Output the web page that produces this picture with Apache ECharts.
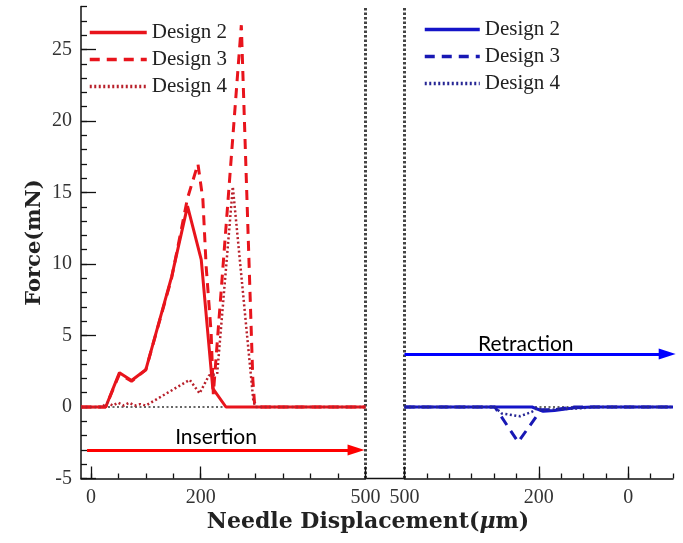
<!DOCTYPE html>
<html><head><meta charset="utf-8">
<script src="https://cdn.jsdelivr.net/npm/echarts@6/dist/echarts.min.js"></script>
<style>html,body{margin:0;padding:0;background:#fff}#c{width:683px;height:543px}</style>
</head><body><div id="c"></div>
<script>
// ---- Insertion panel (left) : needle displacement (um) vs force (mN)
const insX2 = [-18, 27, 52, 74, 100, 147, 176, 201, 222, 246, 500];
const insY2 = [0, 0, 2.4, 1.85, 2.6, 9.1, 14.05, 10.3, 1.3, 0, 0];
const insX3 = [-18, 27, 52, 74, 100, 147, 176, 195, 204, 210, 219, 223, 274, 295, 298, 305, 500];
const insY3 = [0, 0, 2.3, 1.8, 2.6, 9.0, 14.6, 17.0, 14.5, 9.8, 5.2, 0.9, 26.7, 1.9, 0.3, 0, 0];
const insX4 = [-18, 20, 30, 40, 50, 60, 70, 80, 90, 100, 140, 180, 198, 215, 230, 258.5, 296, 300, 500];
const insY4 = [0, 0, 0.3, 0.1, 0.3, 0.1, 0.3, 0.1, 0.2, 0.1, 1.0, 1.9, 0.95, 2.2, 2.3, 15.4, 0.4, 0, 0];
// ---- Retraction panel (right)
const retX2 = [500, 215, 190, 165, 120, 80, -100];
const retY2 = [0, 0, -0.3, -0.25, -0.05, 0, 0];
const retX3 = [500, 298, 246, 205, 195, 170, 120, -100];
const retY3 = [0, 0, -2.45, -0.65, -0.2, -0.2, 0, 0];
const retX4 = [500, 298, 283, 242, 216, 205, 190, 150, 110, 80, -100];
const retY4 = [0, 0, -0.45, -0.65, -0.35, -0.1, -0.2, -0.15, -0.1, 0, 0];
// reference lines / annotations
const zeroInsX = [-18, 500];
const zeroRetX = [500, -100];
const zeroY = [0, 0];
const insArrowX = [-7, 483];
const insArrowY = -3;
const retArrowX = [500, -87];
const retArrowY = 3.7;
const insTextPos = [228, -2.1];
const retTextPos = [229, 4.4];
// ticks
const xMajorIns = [0, 200, 500];
const xMinorIns = [0, 50, 100, 150, 200, 250, 300, 350, 400, 450, 500];
const xMajorRet = [500, 200, 0];
const xMinorRet = [500, 450, 400, 350, 300, 250, 200, 150, 100, 50, 0, -50, -100];
const yMajor = [-5, 0, 5, 10, 15, 20, 25];
const yMinor = [-5,-4,-3,-2,-1,0,1,2,3,4,5,6,7,8,9,10,11,12,13,14,15,16,17,18,19,20,21,22,23,24,25,26,27,28];
const legendNames = ['Design 2', 'Design 3', 'Design 4'];
const legendNamesRet = ['R Design 2', 'R Design 3', 'R Design 4'];

const pairs = (xs, ys) => xs.map((x, i) => [x, ys[i]]);

const RED = '#e8141c', RED4 = '#b8202b';
const BLUE = '#1414c8', BLUE3 = '#1818b4', BLUE4 = '#262694';
const serif = 'Liberation Serif';
const arrowPath = 'path://M0,0M17,17M8.5,0L14,17L3,17Z';

const chart = echarts.init(document.getElementById('c'), null, {renderer: 'canvas'});

const baseX = (gridIndex, min, max, inverse) => ({
  type: 'value', gridIndex, min, max, inverse, position: 'bottom',
  axisLine: {show: false, onZero: false},
  splitLine: {show: false}, axisLabel: {show: false}, axisTick: {show: false}
});

const xAxes = [
  Object.assign(baseX(0, -18, 500, false), {
    axisLine: {show: true, onZero: false, lineStyle: {color: '#111', width: 1.5}},
    axisTick: {show: true, inside: true, length: 12, customValues: xMajorIns, lineStyle: {color: '#111', width: 1.3}},
    axisLabel: {show: true, customValues: xMajorIns, margin: 9, color: '#333', fontFamily: serif, fontSize: 20}
  }),
  Object.assign(baseX(0, -18, 500, false), {
    axisTick: {show: true, inside: true, length: 5, customValues: xMinorIns, lineStyle: {color: '#111', width: 1.3}}
  }),
  Object.assign(baseX(1, -100, 500, true), {
    axisLine: {show: true, onZero: false, lineStyle: {color: '#111', width: 1.5}},
    axisTick: {show: true, inside: true, length: 12, customValues: xMajorRet, lineStyle: {color: '#111', width: 1.3}},
    axisLabel: {show: true, customValues: xMajorRet, margin: 9, color: '#333', fontFamily: serif, fontSize: 20}
  }),
  Object.assign(baseX(1, -100, 500, true), {
    axisTick: {show: true, inside: true, length: 5, customValues: xMinorRet, lineStyle: {color: '#111', width: 1.3}}
  })
];

const baseY = (gridIndex, position) => ({
  type: 'value', gridIndex, min: -5, max: 28, position,
  axisLine: {show: false, onZero: false}, splitLine: {show: false},
  axisLabel: {show: false}, axisTick: {show: false}
});

const dottedBorder = {color: '#444', width: 3, type: [2.5, 2], cap: 'butt'};

const yAxes = [
  Object.assign(baseY(0, 'left'), {
    name: 'Force(mN)', nameLocation: 'middle', nameGap: 36,
    nameTextStyle: {fontFamily: 'DejaVu Serif', fontWeight: 'bold', fontSize: 21, color: '#222'},
    axisLine: {show: true, onZero: false, lineStyle: {color: '#111', width: 1.5}},
    axisTick: {show: true, inside: true, length: 15, customValues: yMajor, lineStyle: {color: '#111', width: 1.3}},
    axisLabel: {show: true, customValues: yMajor, margin: 9, color: '#333', fontFamily: serif, fontSize: 20}
  }),
  Object.assign(baseY(0, 'left'), {
    axisTick: {show: true, inside: true, length: 6, customValues: yMinor, lineStyle: {color: '#111', width: 1.3}}
  }),
  Object.assign(baseY(0, 'right'), {
    axisLine: {show: true, onZero: false, lineStyle: dottedBorder}
  }),
  Object.assign(baseY(1, 'left'), {
    axisLine: {show: true, onZero: false, lineStyle: dottedBorder}
  })
];

const lineSeries = (name, xs, ys, xi, yi, color, type, width) => ({
  name, type: 'line', xAxisIndex: xi, yAxisIndex: yi, data: pairs(xs, ys),
  symbol: 'none', showSymbol: false, silent: true, clip: false,
  lineStyle: {color, type, width}, itemStyle: {color}
});

const annot = (text, pos) => ({
  coord: pos, symbol: 'circle', symbolSize: 1, itemStyle: {color: 'rgba(0,0,0,0)'},
  label: {show: true, position: 'inside', formatter: text, color: '#000', fontFamily: 'Lato', fontSize: 21}
});

const zeroIns = lineSeries('zeroIns', zeroInsX, zeroY, 0, 0, '#666', [2, 2.5], 2);
zeroIns.markLine = {
  silent: true, symbol: ['none', arrowPath], symbolSize: 17, label: {show: false},
  lineStyle: {color: '#ff0000', width: 3, type: 'solid'},
  data: [[{coord: [insArrowX[0], insArrowY]}, {coord: [insArrowX[1], insArrowY]}]]
};
zeroIns.markPoint = {silent: true, data: [annot('Insertion', insTextPos)]};

const zeroRet = lineSeries('zeroRet', zeroRetX, zeroY, 2, 3, '#666', [2, 2.5], 2);
zeroRet.markLine = {
  silent: true, symbol: ['none', arrowPath], symbolSize: 17, label: {show: false},
  lineStyle: {color: '#0000ff', width: 3, type: 'solid'},
  data: [[{coord: [retArrowX[0], retArrowY]}, {coord: [retArrowX[1], retArrowY]}]]
};
zeroRet.markPoint = {silent: true, data: [annot('Retraction', retTextPos)]};

const series = [
  zeroIns,
  lineSeries(legendNames[0], insX2, insY2, 0, 0, RED, 'solid', 3),
  lineSeries(legendNames[1], insX3, insY3, 0, 0, RED, [10, 7], 3),
  lineSeries(legendNames[2], insX4, insY4, 0, 0, RED4, [2, 2.5], 2.5),
  zeroRet,
  lineSeries(legendNamesRet[0], retX2, retY2, 2, 3, BLUE, 'solid', 3),
  lineSeries(legendNamesRet[1], retX3, retY3, 2, 3, BLUE3, [10, 7], 3),
  lineSeries(legendNamesRet[2], retX4, retY4, 2, 3, BLUE4, [2, 2.5], 2.5)
];

const legendText = {fontFamily: serif, fontSize: 21, color: '#222', lineHeight: 20};
const legendCommon = {
  orient: 'vertical', padding: 0, itemGap: 6, itemHeight: 14, textStyle: legendText,
  selectedMode: false, itemStyle: {opacity: 0, borderWidth: 0},
  lineStyle: {width: 3.5}
};

chart.setOption({
  animation: false,
  backgroundColor: '#fff',
  grid: [
    {left: 81, top: 6.6, width: 284.4, height: 471.9, outerBoundsMode: 'none', containLabel: false},
    {left: 404.5, top: 6.6, width: 268.5, height: 471.9, outerBoundsMode: 'none', containLabel: false}
  ],
  xAxis: xAxes,
  yAxis: yAxes,
  legend: [
    Object.assign({data: legendNames, left: 88, top: 22, itemWidth: 57}, legendCommon),
    Object.assign({data: legendNamesRet, left: 423, top: 19, itemWidth: 55,
      formatter: n => n.replace('R ', '')}, legendCommon)
  ],
  title: {
    text: 'Needle Displacement({mu|μ}m)', left: 368, top: 511, textAlign: 'center', padding: 0,
    textStyle: {fontFamily: 'DejaVu Serif', fontWeight: 'bold', fontSize: 22, color: '#222',
      rich: {mu: {fontFamily: 'DejaVu Serif', fontStyle: 'italic', fontWeight: 'bold', fontSize: 22, color: '#222'}}}
  },
  graphic: [
    {type: 'line', shape: {x1: 365.4, y1: 478.5, x2: 404.5, y2: 478.5}, style: {stroke: '#111', lineWidth: 1.5}, silent: true}
  ],
  series
});
</script>
</body></html>
